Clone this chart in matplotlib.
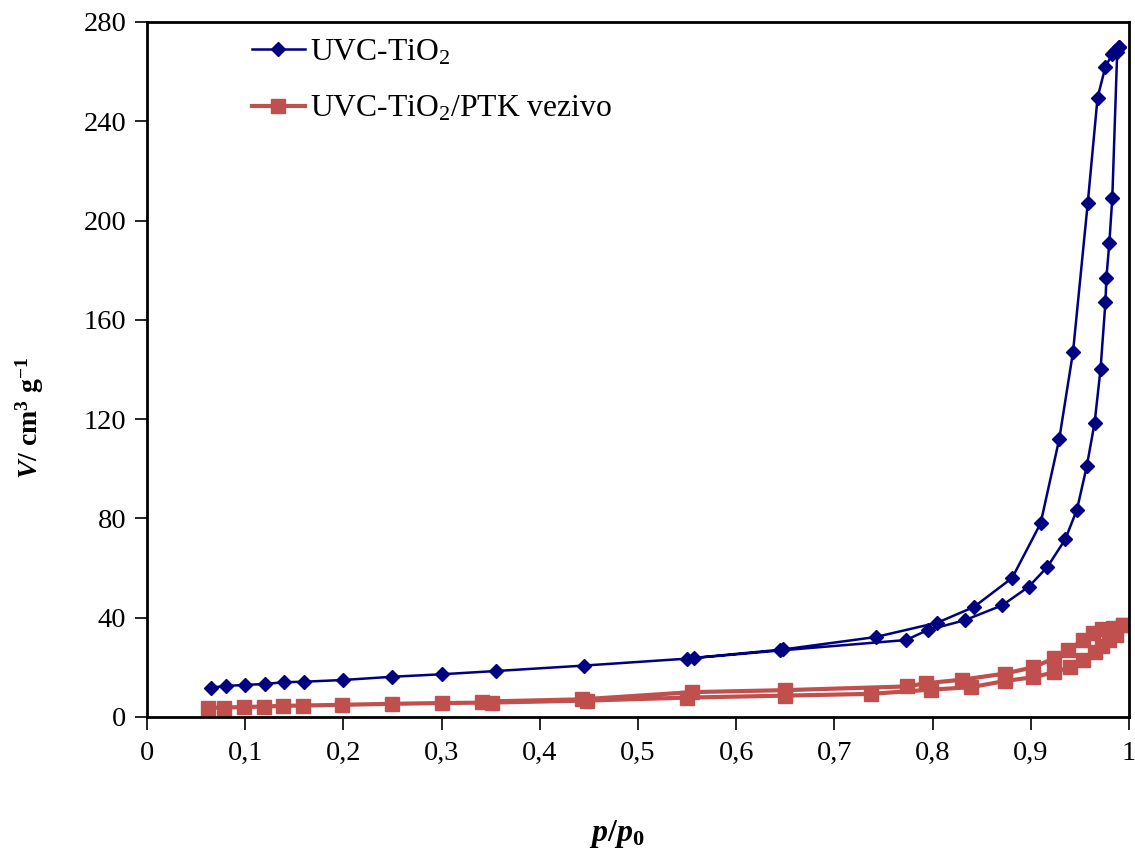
import matplotlib
matplotlib.use("Agg")
import matplotlib.pyplot as plt
from matplotlib.ticker import FuncFormatter

plt.rcParams['font.family'] = ['Liberation Serif', 'DejaVu Serif']
plt.rcParams['mathtext.fontset'] = 'custom'
plt.rcParams['mathtext.it'] = 'Liberation Serif:italic:bold'
plt.rcParams['mathtext.rm'] = 'Liberation Serif:bold'
plt.rcParams['mathtext.bf'] = 'Liberation Serif:bold'

# UVC-TiO2: adsorption then desorption branch
tio2_ads_p = [0.065, 0.08, 0.10, 0.12, 0.14, 0.16, 0.20, 0.25, 0.30, 0.355, 0.445,
              0.55, 0.645, 0.773, 0.795, 0.833, 0.871, 0.898, 0.917, 0.935, 0.947,
              0.957, 0.965, 0.971, 0.976, 0.977, 0.980, 0.983, 0.988, 0.990]
tio2_ads_v = [11.8, 12.5, 12.9, 13.3, 14.0, 14.2, 14.9, 16.2, 17.2, 18.5, 20.7,
              23.5, 26.8, 31.0, 35.0, 39.0, 45.0, 52.5, 60.5, 71.5, 83.5,
              101, 118.5, 140, 167, 177, 191, 209, 268, 270]
tio2_des_p = [0.990, 0.986, 0.983, 0.976, 0.968, 0.958, 0.943, 0.929, 0.910,
              0.881, 0.842, 0.805, 0.742, 0.648, 0.557]
tio2_des_v = [270, 268.5, 267, 262, 249.5, 207, 147, 112, 78,
              56, 44.3, 38, 32.2, 27.2, 23.8]

# UVC-TiO2/PTK vezivo: adsorption then desorption branch
ptk_ads_p = [0.062, 0.078, 0.099, 0.119, 0.139, 0.159, 0.199, 0.25, 0.30, 0.351,
             0.448, 0.55, 0.65, 0.737, 0.798, 0.839, 0.874, 0.902, 0.924, 0.940,
             0.953, 0.965, 0.973, 0.980, 0.987, 0.994]
ptk_ads_v = [3.6, 3.8, 4.0, 4.2, 4.5, 4.6, 4.9, 5.3, 5.6, 5.8,
             6.6, 7.8, 8.6, 9.3, 11.0, 12.0, 14.5, 16.0, 18.0, 20.0,
             23.0, 26.0, 28.5, 31.0, 33.0, 37.0]
ptk_des_p = [0.994, 0.984, 0.973, 0.963, 0.953, 0.938, 0.924, 0.902, 0.874,
             0.830, 0.793, 0.774, 0.65, 0.555, 0.443, 0.341]
ptk_des_v = [37.0, 36.0, 35.5, 34.0, 31.0, 27.0, 23.6, 20.0, 17.5,
             15.0, 13.6, 12.3, 10.8, 10.0, 7.1, 6.2]

x_ticks = [0, 0.1, 0.2, 0.3, 0.4, 0.5, 0.6, 0.7, 0.8, 0.9, 1.0]
y_ticks = [0, 40, 80, 120, 160, 200, 240, 280]

fig = plt.figure(figsize=(11.35, 8.52), dpi=100)
ax = fig.add_axes([0.1295, 0.1585, 0.8652, 0.8157])

blue = '#000080'
red = '#C0504D'

ax.plot(tio2_ads_p + tio2_des_p, tio2_ads_v + tio2_des_v, color=blue, lw=1.8,
        marker='D', ms=7.5, mec=blue, mfc=blue,
        label=r'UVC-TiO$_\mathregular{2}$', zorder=3)
ax.plot(ptk_ads_p + ptk_des_p, ptk_ads_v + ptk_des_v, color=red, lw=3,
        marker='s', ms=10.5, mec=red, mfc=red,
        label=r'UVC-TiO$_\mathregular{2}$/PTK vezivo', zorder=2)

ax.set_xlim(0, 1)
ax.set_ylim(0, 280)
ax.set_xticks(x_ticks)
ax.set_yticks(y_ticks)

def fmt(v, pos):
    s = ('%.1f' % v).rstrip('0').rstrip('.')
    return s.replace('.', ',')

ax.xaxis.set_major_formatter(FuncFormatter(fmt))
ax.tick_params(axis='both', direction='out', length=9, width=1.2, labelsize=20.5,
               colors='black')
ax.tick_params(axis='x', pad=8)
ax.tick_params(axis='y', pad=6)
for s in ax.spines.values():
    s.set_linewidth(2)
    s.set_color('black')

ax.set_ylabel(r'$\mathit{V}$/ cm$^{3}$ g$^{-1}$', fontsize=20, fontweight='bold')
ax.yaxis.set_label_coords(-0.103, 0.43)
ax.set_xlabel(r'$p/p_\mathit{0}$', fontsize=23)
ax.xaxis.set_label_coords(0.478, -0.146)

leg = ax.legend(loc='upper left', bbox_to_anchor=(0.084, 1.009), frameon=False,
                fontsize=22.8, handlelength=1.67, handletextpad=0.16, labelspacing=0.85,
                borderaxespad=0.3)
for h in leg.legend_handles:
    h.set_markersize(h.get_markersize() * 0.9)

fig.savefig('out.png', dpi=100)
